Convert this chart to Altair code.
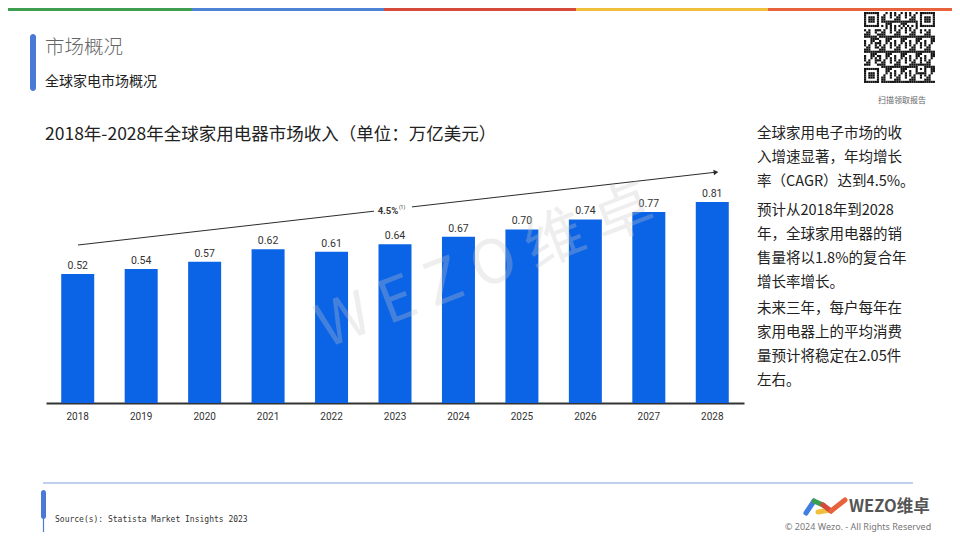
import altair as alt
import pandas as pd

# ---------------- data ----------------
years = ["2018", "2019", "2020", "2021", "2022", "2023", "2024", "2025", "2026", "2027", "2028"]
revenue = [0.52, 0.54, 0.57, 0.62, 0.61, 0.64, 0.67, 0.70, 0.74, 0.77, 0.81]

page_title = "市场概况"
page_subtitle = "全球家电市场概况"
chart_title = "2018年-2028年全球家用电器市场收入（单位：万亿美元）"
cagr_label = "4.5%"
cagr_note = "(1)"
para1 = ["全球家用电子市场的收", "入增速显著，年均增长", "率（CAGR）达到4.5%。"]
para2 = ["预计从2018年到2028", "年，全球家用电器的销", "售量将以1.8%的复合年", "增长率增长。"]
para3 = ["未来三年，每户每年在", "家用电器上的平均消费", "量预计将稳定在2.05件", "左右。"]
source_text = "Source(s): Statista Market Insights 2023"
brand_text = "WEZO维卓"
watermark_text = "W  E  Z  O  维  卓"
copyright_text = "© 2024 Wezo. - All Rights Reserved"
qr_caption = "扫描领取报告"

CJK = "Noto Sans CJK SC"
NUM = "Roboto"
BAR = "#0B63E5"
ACCENT = "#4A7AD6"

# plot-area origin on the page (page has 8px margin, padding places the view)
OX, OY = 46, 155
W, H = 698, 248


def one():
    return alt.Chart(pd.DataFrame({"k": [0]}))


def txt(t, x, y, size, color="#222222", weight="normal", font=CJK, align="left",
        angle=None, opacity=None, line_height=None):
    kw = dict(align=align, baseline="middle", fontSize=size, color=color,
              fontWeight=weight, font=font)
    if angle is not None:
        kw["angle"] = angle
    if opacity is not None:
        kw["opacity"] = opacity
    if line_height is not None:
        kw["lineHeight"] = line_height
    return one().mark_text(**kw).encode(
        x=alt.value(x - OX), y=alt.value(y - OY), text=alt.value(t))


def rule(x1, y1, x2, y2, color, width=1.0, cap="butt"):
    return one().mark_rule(color=color, strokeWidth=width, strokeCap=cap).encode(
        x=alt.value(x1 - OX), y=alt.value(y1 - OY),
        x2=alt.value(x2 - OX), y2=alt.value(y2 - OY))


def rect(x1, y1, x2, y2, color, radius=0):
    return one().mark_rect(color=color, cornerRadius=radius).encode(
        x=alt.value(x1 - OX), y=alt.value(y1 - OY),
        x2=alt.value(x2 - OX), y2=alt.value(y2 - OY))


layers = []

# top colour stripe
stripe_cols = ["#3E9E4F", "#4D84D6", "#D64A3B", "#F0C03C", "#E8633C"]
for i, c in enumerate(stripe_cols):
    layers.append(rect(i * 192, 8, (i + 1) * 192, 11, c))

# header
layers.append(rect(30, 34, 36, 91, ACCENT, radius=3))
layers.append(txt(page_title, 45, 48, 19.5, color="#666666", weight=300))
layers.append(txt(page_subtitle, 45, 82, 14, color="#222222"))
layers.append(txt(chart_title, 45, 135, 17.5, color="#222222"))

# bars + value labels
df = pd.DataFrame({"year": years, "revenue": revenue})
xenc = alt.X("year:N", title=None,
             scale=alt.Scale(paddingInner=0.48, paddingOuter=0.24),
             axis=alt.Axis(labelAngle=0, ticks=False, labelPadding=8, labelFontSize=10,
                           labelColor="#333333", labelFont=NUM, domainColor="#333333",
                           domainWidth=2, grid=False))
yenc = alt.Y("revenue:Q", scale=alt.Scale(domain=[0, 1]), axis=None)
bars = alt.Chart(df).mark_bar(color=BAR).encode(x=xenc, y=yenc)
vals = alt.Chart(df).mark_text(baseline="bottom", dy=-3, fontSize=10.5, color="#333333",
                               font=NUM).encode(
    x=xenc, y=yenc, text=alt.Text("revenue:Q", format=".2f"))
layers += [bars, vals]

# CAGR arrow
layers.append(rule(78, 245, 374, 211.2, "#2B2B2B"))
layers.append(rule(412, 206.9, 714, 172.4, "#2B2B2B"))
layers.append(one().mark_point(shape="triangle-right", filled=True, size=30, angle=353.5,
                               color="#2B2B2B", opacity=1).encode(
    x=alt.value(716 - OX), y=alt.value(172.2 - OY)))
layers.append(txt(cagr_label, 388, 210.5, 9.5, color="#333333", weight="bold", font=NUM,
                  align="center"))
layers.append(txt(cagr_note, 402, 207, 5, color="#333333", font=NUM, align="center"))

# watermark
layers.append(txt(watermark_text, 486, 268, 60, color="#C8C8C8", font=CJK, align="center",
                  angle=339, opacity=0.3))

# right-hand commentary
layers.append(txt(para1, 757, 134, 14.5, color="#222222", line_height=24))
layers.append(txt(para2, 757, 211, 14.5, color="#222222", line_height=24))
layers.append(txt(para3, 757, 309, 14.5, color="#222222", line_height=24))

# footer
layers.append(rule(43, 483, 913, 483, "#A9C1E6", width=1.5))
layers.append(rect(41, 490, 46, 519, ACCENT, radius=2.5))
layers.append(rule(43.5, 515, 43.5, 540, ACCENT, width=1.2))
layers.append(txt(source_text, 55, 520, 8, color="#333333", font="DejaVu Sans Mono"))

# brand logo
layers.append(rule(806, 513, 814, 501, "#3F7FE0", width=5, cap="round"))
layers.append(rule(814, 501, 823, 505, "#3E9E4F", width=5, cap="round"))
layers.append(rule(818, 512, 830, 510, "#F0C03C", width=5, cap="round"))
layers.append(rule(823, 505, 831, 511, "#D64A3B", width=5, cap="round"))
layers.append(rule(831, 511, 845, 500, "#E8633C", width=5, cap="round"))
layers.append(txt(brand_text, 849, 507, 16.5, color="#555555", weight="bold", font=CJK))
layers.append(txt(copyright_text, 785, 527, 9, color="#777777", font="Noto Sans"))

# QR code (decorative module grid)
N = 33
M = 2.15
QX, QY = 864, 12


def finder_dark(i, j):
    return i in (0, 6) or j in (0, 6) or (2 <= i <= 4 and 2 <= j <= 4)


cells = []
for r in range(N):
    for c in range(N):
        if r < 8 and c < 8:
            dark = r < 7 and c < 7 and finder_dark(r, c)
        elif r < 8 and c >= N - 8:
            cc = c - (N - 7)
            dark = r < 7 and cc >= 0 and finder_dark(r, cc)
        elif r >= N - 8 and c < 8:
            rr = r - (N - 7)
            dark = rr >= 0 and c < 7 and finder_dark(rr, c)
        elif 24 <= r <= 28 and 24 <= c <= 28:
            i, j = r - 24, c - 24
            dark = i in (0, 4) or j in (0, 4) or (i == 2 and j == 2)
        elif r == 6 or c == 6:
            dark = (r + c) % 2 == 0
        else:
            dark = ((r * r + 3 * c + r * c) % 7) < 3
        if dark:
            cells.append({"qx": QX + c * M - OX, "qy": QY + r * M - OY,
                          "qx2": QX + (c + 1) * M - OX, "qy2": QY + (r + 1) * M - OY})
qr = alt.Chart(pd.DataFrame(cells)).mark_rect(color="#111111").encode(
    x=alt.X("qx:Q", scale=None), x2="qx2:Q",
    y=alt.Y("qy:Q", scale=None), y2="qy2:Q")
layers.append(qr)
layers.append(txt(qr_caption, 902, 101, 8, color="#666666", align="center"))

chart = alt.layer(*layers).properties(
    width=W, height=H,
    background="white",
    autosize=alt.AutoSizeParams(type="none"),
    padding={"left": 38, "top": 147, "right": 208, "bottom": 129},
).configure_view(stroke=None)

chart.save("out.html", embed_options={"renderer": "svg", "actions": False})
